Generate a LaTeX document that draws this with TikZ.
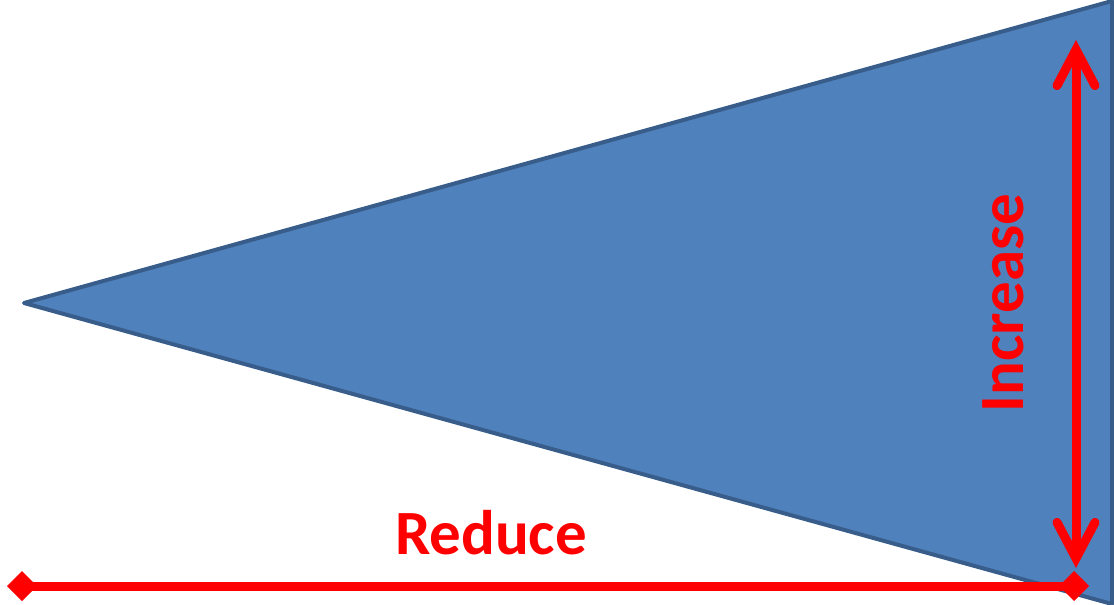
\documentclass[tikz,border=0pt]{standalone}
\usepackage{fontspec}
\setmainfont{Carlito}
\usepackage{xcolor}
\usetikzlibrary{arrows.meta,positioning}

\definecolor{wedgefill}{RGB}{79,129,189}
\definecolor{wedgeline}{RGB}{56,93,138}

\begin{document}
\begin{tikzpicture}[
  x=1pt, y=-1pt,
  wedge/.style={draw=wedgeline, fill=wedgefill, line width=4pt, line join=round},
  growarrow/.style={{Straight Barb[length=36pt, width=38pt, line cap=round]}-{Straight Barb[length=36pt, width=38pt, line cap=round]}, line width=9pt, red},
  shrinkline/.style={{Turned Square[length=30pt, width=30pt]}-{Turned Square[length=30pt, width=30pt]}, line width=9pt, red},
  word/.style={font=\fontsize{63}{63}\selectfont\bfseries, text=red, inner sep=0pt}
]
\useasboundingbox (0,0) rectangle (1114,605);

\coordinate (apex) at (24,303);
\coordinate (topr) at (1112,1);
\coordinate (botr) at (1112,604);
\draw[wedge] (apex) -- (topr) -- (botr) -- cycle;

\coordinate (uptip) at (1076,40);
\coordinate (downtip) at (1076,568);
\draw[growarrow] (downtip) -- (uptip);

\coordinate (lend) at (7,586);
\coordinate (rend) at (1089,586);
\draw[shrinkline] (lend) -- (rend);

\node[word] (reduce) at (491,533) {Reduce};
\node[word, rotate=90] (increase) at (1003,303) {Increase};

\end{tikzpicture}
\end{document}
